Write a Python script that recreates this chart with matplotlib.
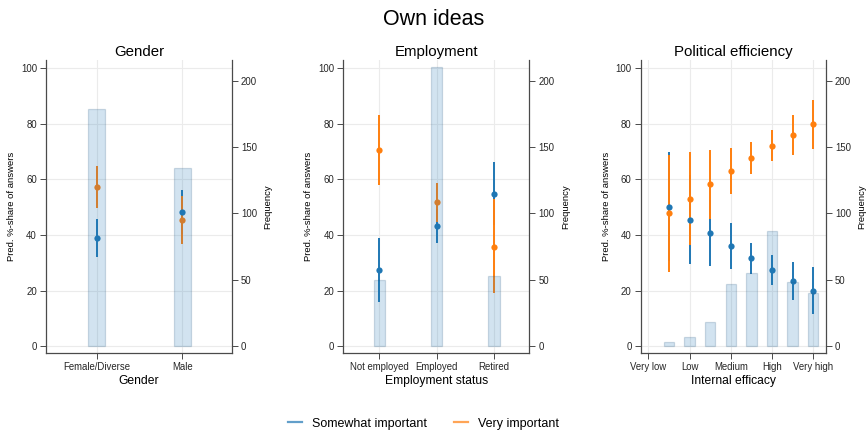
import numpy as np
import matplotlib.pyplot as plt
from matplotlib.lines import Line2D

plt.rcParams['font.family'] = ['Liberation Sans', 'DejaVu Sans']

BLUE = "#1f77b4"
ORANGE = "#ff7f0e"
SPINE = "#4a4a4a"
GRID = "#ebebeb"

# Gender
gender_labels = ["Female/Diverse", "Male"]
gender_freq = [179, 134]
gender_some = [39.0, 48.3]
gender_some_lo = [32.1, 40.5]
gender_some_hi = [45.6, 56.1]
gender_very = [57.2, 45.3]
gender_very_lo = [49.8, 36.6]
gender_very_hi = [64.7, 54.0]

# Employment
empl_labels = ["Not employed", "Employed", "Retired"]
empl_freq = [50, 210, 53]
empl_some = [27.4, 43.4, 54.8]
empl_some_lo = [16.1, 37.2, 43.5]
empl_some_hi = [38.8, 49.5, 66.2]
empl_very = [70.5, 51.7, 35.7]
empl_very_lo = [57.9, 44.7, 19.0]
empl_very_hi = [83.1, 58.6, 52.8]

# Political efficiency (internal efficacy, half steps)
eff_ticks = [1, 2, 3, 4, 5]
eff_labels = ["Very low", "Low", "Medium", "High", "Very high"]
eff_x = [1.5, 2, 2.5, 3, 3.5, 4, 4.5, 5]
eff_freq = [3, 7, 18, 47, 55, 87, 48, 40]
eff_some = [50.1, 45.4, 40.8, 36.1, 31.7, 27.4, 23.6, 20.0]
eff_some_lo = [30.5, 29.5, 28.8, 27.8, 26.1, 22.1, 16.7, 11.5]
eff_some_hi = [69.7, 61.5, 52.5, 44.2, 37.3, 32.8, 30.3, 28.5]
eff_very = [47.8, 52.9, 58.2, 63.1, 67.7, 72.1, 76.1, 79.9]
eff_very_lo = [26.7, 36.3, 45.7, 54.8, 62.0, 66.7, 68.8, 70.8]
eff_very_hi = [68.7, 69.7, 70.5, 71.3, 73.4, 77.6, 83.3, 88.7]

W, H = 867, 430
fig = plt.figure(figsize=(W / 100, H / 100), dpi=100)
TICK_FS = 6.9
LAB_FS = 6.8


def panel(left_px, width_px, x, freq, bar_w, some, some_lo, some_hi,
          very, very_lo, very_hi, ticks, ticklabels, xlim, title, xlabel):
    ax = fig.add_axes([left_px / W, (H - 353) / H, width_px / W, 293 / H])
    ax.set_ylim(-2.4, 102.9)
    ax.set_xlim(*xlim)
    ax.set_yticks([0, 20, 40, 60, 80, 100])
    ax.set_xticks(ticks)
    ax.set_xticklabels(ticklabels)
    ax.grid(True, color=GRID, lw=0.8)
    ax.set_axisbelow(True)
    for s in ["top", "right"]:
        ax.spines[s].set_visible(False)
    for s in ["left", "bottom"]:
        ax.spines[s].set_color(SPINE)
        ax.spines[s].set_linewidth(0.9)
    ax.tick_params(colors=SPINE, labelcolor="#262626", labelsize=TICK_FS,
                   length=4, width=0.7, pad=2.5)

    # confidence intervals, then point estimates
    ax.vlines(x, some_lo, some_hi, color=BLUE, lw=1.4)
    ax.vlines(x, very_lo, very_hi, color=ORANGE, lw=1.4)
    ax.plot(x, some, "o", color=BLUE, ms=4.5, mec="none")
    ax.plot(x, very, "o", color=ORANGE, ms=4.5, mec="none")

    ax.set_ylabel("Pred. %-share of answers", fontsize=LAB_FS)
    ax.yaxis.set_label_coords(-30 / width_px, 0.5)
    ax.set_xlabel(xlabel, fontsize=8.7, labelpad=2)
    ax.set_title(title, fontsize=10.8, pad=3)

    # frequency bars on a second axis
    ax2 = ax.twinx()
    ax2.set_ylim(-5.3, 215.6)
    ax2.set_yticks([0, 50, 100, 150, 200])
    ax2.bar(x, freq, width=bar_w, color=BLUE, alpha=0.2,
            edgecolor="#1f4f7a", linewidth=0.9)
    for s in ["top", "left", "bottom"]:
        ax2.spines[s].set_visible(False)
    ax2.spines["right"].set_color(SPINE)
    ax2.spines["right"].set_linewidth(0.9)
    ax2.tick_params(colors=SPINE, labelcolor="#262626", labelsize=TICK_FS,
                    length=4, width=0.7, pad=2.5)
    ax2.set_ylabel("Frequency", fontsize=LAB_FS)
    ax2.yaxis.set_label_coords(1 + 31.5 / width_px, 0.5)
    return ax


panel(46, 186, [0, 1], gender_freq, 0.2, gender_some, gender_some_lo,
      gender_some_hi, gender_very, gender_very_lo, gender_very_hi,
      [0, 1], gender_labels, (-0.59, 1.58), "Gender", "Gender")

panel(343.3, 186, [0, 1, 2], empl_freq, 0.2, empl_some, empl_some_lo,
      empl_some_hi, empl_very, empl_very_lo, empl_very_hi,
      [0, 1, 2], empl_labels, (-0.63, 2.62), "Employment", "Employment status")

panel(640.7, 185.3, eff_x, eff_freq, 0.25, eff_some, eff_some_lo,
      eff_some_hi, eff_very, eff_very_lo, eff_very_hi,
      eff_ticks, eff_labels, (0.816, 5.31), "Political efficiency",
      "Internal efficacy")

fig.suptitle("Own ideas", fontsize=15.5, y=0.978)

handles = [Line2D([], [], color=BLUE, lw=1.6, alpha=0.7),
           Line2D([], [], color=ORANGE, lw=1.6, alpha=0.7)]
fig.legend(handles, ["Somewhat important", "Very important"], loc="lower center",
           bbox_to_anchor=(0.4885, -0.025), ncol=2, frameon=False, fontsize=9,
           handlelength=1.15, handletextpad=0.8, columnspacing=2.1)

fig.savefig("out.png", dpi=100)
